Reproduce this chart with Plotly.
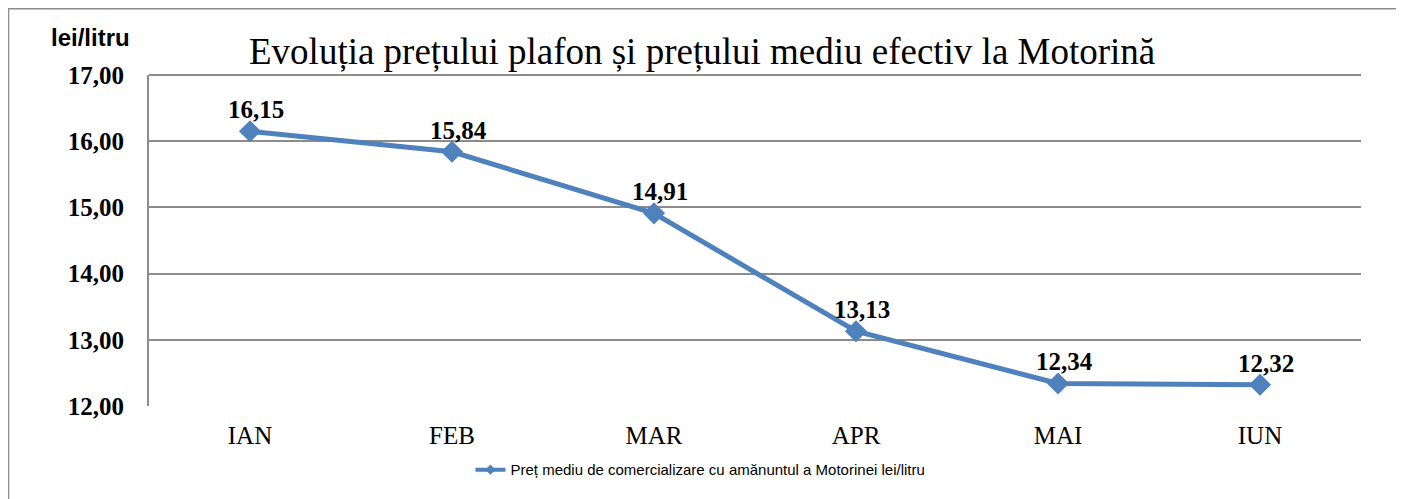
import plotly.graph_objects as go

months = ["IAN", "FEB", "MAR", "APR", "MAI", "IUN"]
prices = [16.15, 15.84, 14.91, 13.13, 12.34, 12.32]
price_labels = ["16,15", "15,84", "14,91", "13,13", "12,34", "12,32"]
y_ticks = [12, 13, 14, 15, 16, 17]
y_tick_labels = ["12,00", "13,00", "14,00", "15,00", "16,00", "17,00"]
series_name = "Preț mediu de comercializare cu amănuntul a Motorinei lei/litru"
title_text = "Evoluția prețului plafon și prețului mediu efectiv la Motorină"

BLUE = "#4F81BD"
GREY = "#8C8C8C"

fig = go.Figure()
fig.add_trace(go.Scatter(
    x=months, y=prices, mode="lines+markers",
    name=series_name, showlegend=False,
    line=dict(color=BLUE, width=5),
    marker=dict(symbol="diamond", size=17, color=BLUE),
    cliponaxis=False,
))
# legend entry (small marker like the reference legend)
fig.add_trace(go.Scatter(
    x=[None], y=[None], mode="lines+markers", name=series_name,
    line=dict(color=BLUE, width=4), marker=dict(symbol="diamond", size=8, color=BLUE),
))

annotations = [
    dict(text=title_text, xref="paper", yref="paper", x=0.456, y=1.0695,
         xanchor="center", yanchor="middle", showarrow=False,
         font=dict(family="Liberation Serif", size=37, color="black")),
    dict(text="<b>lei/litru</b>", xref="paper", yref="paper", x=-0.0479, y=1.1148,
         xanchor="center", yanchor="middle", showarrow=False,
         font=dict(family="Liberation Sans", size=24, color="black")),
]
for m, v, lab in zip(months, prices, price_labels):
    annotations.append(dict(
        text="<b>" + lab + "</b>", x=m, y=v, xref="x", yref="y",
        xanchor="center", yanchor="bottom", xshift=6, yshift=6, showarrow=False,
        font=dict(family="Liberation Serif", size=25, color="black"),
    ))

fig.update_layout(
    width=1396, height=491,
    margin=dict(l=141, r=43, t=67, b=93, autoexpand=False),
    paper_bgcolor="white", plot_bgcolor="white",
    showlegend=True,
    legend=dict(orientation="h", x=0.455, xanchor="center", y=-0.193, yanchor="middle",
                font=dict(family="Liberation Sans", size=15, color="black"),
                bgcolor="rgba(0,0,0,0)"),
    xaxis=dict(range=[-0.5, 5.5], showgrid=False, showline=False, zeroline=False,
               ticks="", tickfont=dict(family="Liberation Serif", size=25, color="black"),
               ticklabelstandoff=12, automargin=False),
    yaxis=dict(range=[12, 17], tickvals=y_ticks,
               ticktext=["<b>" + t + "</b>" for t in y_tick_labels],
               showgrid=True, gridcolor=GREY, gridwidth=2,
               showline=True, linecolor=GREY, linewidth=2, zeroline=False,
               ticks="", tickfont=dict(family="Liberation Serif", size=25, color="black"),
               ticklabelstandoff=18, automargin=False),
    annotations=annotations,
    shapes=[
        dict(type="rect", xref="paper", yref="paper", x0=-0.1159, x1=1.0305, y0=-0.35, y1=1.2001,
             line=dict(color=GREY, width=1.5), layer="below"),
        dict(type="line", xref="paper", yref="paper", x0=0, x1=1, y0=1, y1=1,
             line=dict(color=GREY, width=2)),
    ],
)

fig.write_html("out.html")
